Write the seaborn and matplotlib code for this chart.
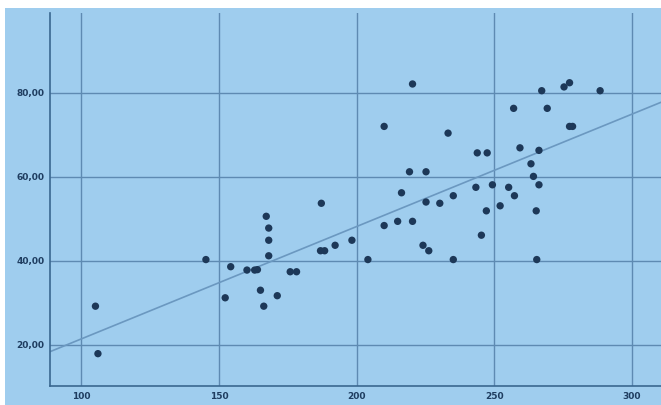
import matplotlib
matplotlib.use("Agg")
import matplotlib.pyplot as plt
import seaborn as sns
import pandas as pd
from matplotlib.patches import Rectangle
from matplotlib.ticker import FuncFormatter

# Observed pairs
x_vals = [105.2, 106.1, 145.3, 154.3, 152.3, 160.2, 163.0, 164.0, 165.1, 166.3,
          167.2, 168.1, 168.1, 168.1, 171.2, 175.9, 178.2, 187.2, 186.9, 188.4,
          192.2, 198.3, 204.1, 210.0, 210.0, 214.9, 216.3, 219.2, 220.3, 220.3,
          224.1, 225.2, 225.2, 226.2, 230.2, 233.2, 235.1, 235.1, 243.3, 243.8,
          245.3, 247.4, 247.1, 249.3, 252.1, 255.2, 257.0, 257.3, 259.3, 263.3,
          264.2, 265.2, 265.4, 266.2, 266.2, 267.2, 269.2, 275.3, 277.3, 277.3,
          278.4, 288.4]
y_vals = [29.2, 17.9, 40.3, 38.6, 31.2, 37.8, 37.8, 37.9, 33.0, 29.2,
          50.6, 47.8, 44.9, 41.2, 31.7, 37.4, 37.4, 53.7, 42.4, 42.4,
          43.7, 44.9, 40.3, 72.0, 48.4, 49.4, 56.2, 61.2, 82.1, 49.4,
          43.7, 54.0, 61.2, 42.4, 53.7, 70.4, 55.5, 40.3, 57.5, 65.7,
          46.1, 65.7, 51.9, 58.1, 53.1, 57.5, 76.3, 55.5, 66.9, 63.1,
          60.1, 51.9, 40.3, 66.3, 58.1, 80.5, 76.3, 81.4, 82.4, 72.0,
          72.0, 80.5]

x_ticks = [100, 150, 200, 250, 300]
y_ticks = [20, 40, 60, 80]

df = pd.DataFrame({"x": x_vals, "y": y_vals})

bg = "#9fcdee"
fig = plt.figure(figsize=(6.61, 4.05), dpi=100, facecolor=bg)
# thin white border along the top and left edges
fig.patches.append(Rectangle((0, 397 / 405), 1, 8 / 405, transform=fig.transFigure,
                             facecolor="white", edgecolor="none", zorder=5))
fig.patches.append(Rectangle((0, 0), 5 / 661, 1, transform=fig.transFigure,
                             facecolor="white", edgecolor="none", zorder=5))
ax = fig.add_axes([50 / 661, 19 / 405, 1 - 50 / 661, (386 - 13) / 405])
ax.set_facecolor(bg)

# limits first so the fitted line spans the whole axis
ax.set_xlim(88.7, 310.5)
ax.set_ylim(10.2, 99)

sns.regplot(data=df, x="x", y="y", ax=ax, ci=None, truncate=False,
            scatter_kws=dict(s=28, color="#1d3858", edgecolor="none", alpha=1, zorder=3),
            line_kws=dict(color="#6b98c0", lw=1.2, zorder=2))

ax.set_xlim(88.7, 310.5)
ax.set_ylim(10.2, 99)
ax.set_xticks(x_ticks)
ax.set_yticks(y_ticks)
ax.yaxis.set_major_formatter(FuncFormatter(lambda v, p: f"{v:.2f}".replace(".", ",")))
ax.grid(True, color="#5e8ab2", lw=1.0, zorder=1)
ax.set_axisbelow(True)
for side in ["top", "right"]:
    ax.spines[side].set_visible(False)
for side in ["left", "bottom"]:
    ax.spines[side].set_color("#3a6790")
    ax.spines[side].set_linewidth(1.2)
ax.tick_params(axis="both", length=0, labelsize=6.5, labelcolor="#1f3d60", pad=4)
for lbl in ax.get_xticklabels() + ax.get_yticklabels():
    lbl.set_fontweight("bold")
ax.set_xlabel("")
ax.set_ylabel("")

fig.savefig("out.png", dpi=100, facecolor=bg)
